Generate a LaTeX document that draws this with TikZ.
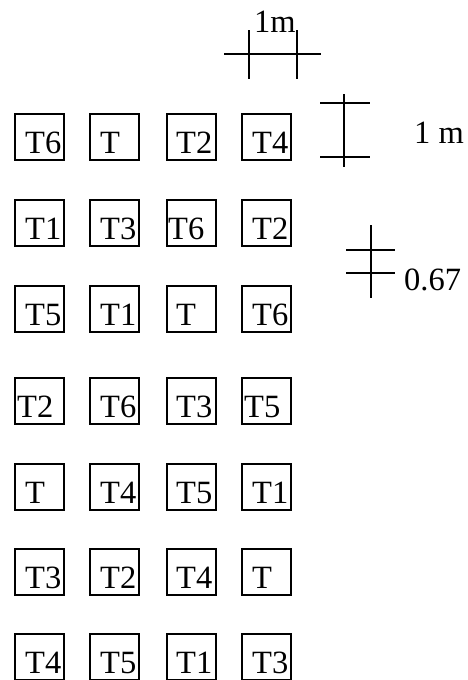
\documentclass[tikz,border=0pt]{standalone}
\usepackage{fontspec}
\setmainfont{Liberation Serif}
\begin{document}
\begin{tikzpicture}[x=1pt,y=-1pt]
    \tikzset{
        cell/.style={draw,line width=1.5pt,minimum width=49pt,minimum height=46pt,inner sep=0pt,anchor=north west},
        tname/.style={anchor=base west,inner sep=0pt,font=\fontsize{32.5}{32.5}\selectfont},
        bar/.style={line width=1.2pt}
    }
    \useasboundingbox (0,0) rectangle (468,680);

    % plots, row by row: label/left edge/text pad
    \foreach \lab/\x/\p [count=\i] in {T6/14/11,T/89/11,T2/166/10,T4/241/11}{
        \node[cell] (a\i) at (\x,113) {};
        \node[tname] (ta\i) at ([xshift=\p pt,yshift=7pt]a\i.south west) {\lab};
    }
    \foreach \lab/\x/\p [count=\i] in {T1/14/11,T3/89/11,T6/166/2,T2/241/11}{
        \node[cell] (b\i) at (\x,199) {};
        \node[tname] (tb\i) at ([xshift=\p pt,yshift=7pt]b\i.south west) {\lab};
    }
    \foreach \lab/\x/\p [count=\i] in {T5/14/11,T1/89/11,T/166/10,T6/241/11}{
        \node[cell] (c\i) at (\x,285) {};
        \node[tname] (tc\i) at ([xshift=\p pt,yshift=7pt]c\i.south west) {\lab};
    }
    \foreach \lab/\x/\p [count=\i] in {T2/14/3,T6/89/11,T3/166/10,T5/241/3}{
        \node[cell] (d\i) at (\x,377) {};
        \node[tname] (td\i) at ([xshift=\p pt,yshift=7pt]d\i.south west) {\lab};
    }
    \foreach \lab/\x/\p [count=\i] in {T/14/11,T4/89/11,T5/166/10,T1/241/11}{
        \node[cell] (e\i) at (\x,463) {};
        \node[tname] (te\i) at ([xshift=\p pt,yshift=7pt]e\i.south west) {\lab};
    }
    \foreach \lab/\x/\p [count=\i] in {T3/14/11,T2/89/11,T4/166/10,T/241/11}{
        \node[cell] (f\i) at (\x,548) {};
        \node[tname] (tf\i) at ([xshift=\p pt,yshift=7pt]f\i.south west) {\lab};
    }
    \foreach \lab/\x/\p [count=\i] in {T4/14/11,T5/89/11,T1/166/10,T3/241/11}{
        \node[cell] (g\i) at (\x,633) {};
        \node[tname] (tg\i) at ([xshift=\p pt,yshift=7pt]g\i.south west) {\lab};
    }

    % scale, width
    \draw[bar] (224,54) -- (321,54);
    \draw[bar] (249,30) -- (249,79);
    \draw[bar] (297,30) -- (297,79);
    \node[tname] (wlab) at (254,32) {1m};

    % scale, depth
    \draw[bar] (344,94) -- (344,167);
    \draw[bar] (320,103) -- (370,103);
    \draw[bar] (320,157) -- (370,157);
    \node[tname] (dlab) at (414,143) {1 m};

    % scale, gap
    \draw[bar] (371,225) -- (371,298);
    \draw[bar] (346,250) -- (395,250);
    \draw[bar] (346,273) -- (395,273);
    \node[tname] (glab) at (404,290) {0.67};
\end{tikzpicture}
\end{document}
